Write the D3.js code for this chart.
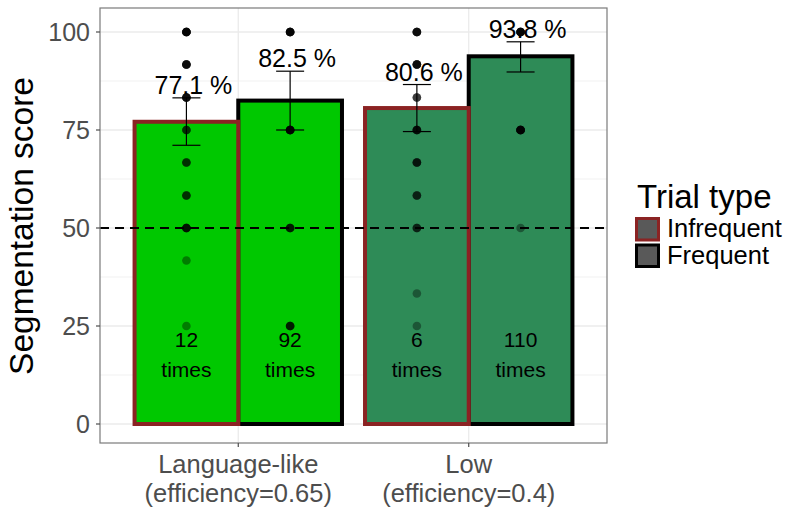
<!DOCTYPE html>
<html lang="en">
<head>
<meta charset="UTF-8">
<title>Segmentation score</title>
<script src="https://d3js.org/d3.v7.min.js"></script>
<style>
  * { margin: 0; padding: 0; box-sizing: border-box; }
  body { background: #fff; width: 785px; height: 510px; overflow: hidden; font-family: Arial, 'Liberation Sans', sans-serif; }
  svg { display: block; }
</style>
</head>
<body>
<svg id="chart" width="785" height="510"></svg>
<script>
// data
var categories = ['Language-like', 'Low'];
var categorySub = ['(efficiency=0.65)', '(efficiency=0.4)'];
var trialTypes = ['Infrequent', 'Frequent'];
var means = [[77.1, 82.5], [80.6, 93.8]];
var ciLow = [[71.1, 75.0], [74.6, 89.8]];
var ciHigh = [[83.2, 90.0], [86.6, 97.5]];
var times = [[12, 92], [6, 110]];
// individual scores: [score, how many overlap]
var dots = [
  [
    [[100, 8], [91.7, 6], [83.3, 6], [75, 3], [66.7, 3], [58.3, 3], [50, 5], [41.7, 1], [25, 1]],
    [[100, 8], [75, 8], [50, 4], [25, 4]]
  ],
  [
    [[100, 6], [91.7, 6], [83.3, 3], [75, 5], [66.7, 4], [58.3, 3], [50, 3], [33.3, 1], [25, 1]],
    [[100, 8], [75, 8], [50, 1]]
  ]
];
var yTicks = [0, 25, 50, 75, 100];
var yMinor = [12.5, 37.5, 62.5, 87.5];
var chance = 50;

var fills = ['#00c800', '#2e8b57'];
var borders = { Infrequent: '#8b2323', Frequent: '#000000' };

var panel = { left: 100, right: 607, top: 8, bottom: 443 };

var svg = d3.select('#chart');

var y = d3.scaleLinear().domain([0, 100]).range([424, 32]);
var x = d3.scalePoint().domain(categories).range([panel.left, panel.right]).padding(0.6);
var dodge = x.step() * 0.9;
var xs = d3.scaleBand().domain(trialTypes).range([-dodge / 2, dodge / 2]);

// grid
var grid = svg.append('g');
yMinor.forEach(function(v) {
  grid.append('line').attr('x1', panel.left).attr('x2', panel.right).attr('y1', y(v)).attr('y2', y(v))
    .attr('stroke', '#ebebeb').attr('stroke-width', 0.7);
});
yTicks.forEach(function(v) {
  grid.append('line').attr('x1', panel.left).attr('x2', panel.right).attr('y1', y(v)).attr('y2', y(v))
    .attr('stroke', '#ebebeb').attr('stroke-width', 1.3);
});
categories.forEach(function(c) {
  grid.append('line').attr('x1', x(c)).attr('x2', x(c)).attr('y1', panel.top).attr('y2', panel.bottom)
    .attr('stroke', '#ebebeb').attr('stroke-width', 1.3);
});

// bars (frequent first so infrequent borders sit on top at the shared edge)
var bars = [];
categories.forEach(function(c, i) {
  trialTypes.forEach(function(t, j) {
    bars.push({ cat: c, ci: i, type: t, tj: j, mean: means[i][j], lo: ciLow[i][j], hi: ciHigh[i][j], n: times[i][j], dots: dots[i][j] });
  });
});
var order = bars.slice().sort(function(a, b) { return b.tj - a.tj; });

svg.append('g').selectAll('rect').data(order).join('rect')
  .attr('x', function(d) { return x(d.cat) + xs(d.type); })
  .attr('width', xs.bandwidth())
  .attr('y', function(d) { return y(d.mean); })
  .attr('height', function(d) { return y(0) - y(d.mean); })
  .attr('fill', function(d) { return fills[d.ci]; })
  .attr('stroke', function(d) { return borders[d.type]; })
  .attr('stroke-width', 4);

function cx(d) { return x(d.cat) + xs(d.type) + xs.bandwidth() / 2; }

// points
var pts = [];
bars.forEach(function(b) {
  b.dots.forEach(function(p) {
    for (var k = 0; k < p[1]; k++) pts.push({ x: cx(b), v: p[0] });
  });
});
svg.append('g').selectAll('circle').data(pts).join('circle')
  .attr('cx', function(d) { return d.x; })
  .attr('cy', function(d) { return y(d.v); })
  .attr('r', 4.3)
  .attr('fill', '#000')
  .attr('fill-opacity', 0.38);

// chance line
svg.append('line').attr('x1', panel.left).attr('x2', panel.right).attr('y1', y(chance)).attr('y2', y(chance))
  .attr('stroke', '#000').attr('stroke-width', 2).attr('stroke-dasharray', '9,6');

// error bars
var cap = xs.bandwidth() * 0.27;
var eb = svg.append('g').attr('stroke', '#000').attr('stroke-width', 1.2);
bars.forEach(function(b) {
  var c = cx(b);
  eb.append('line').attr('x1', c).attr('x2', c).attr('y1', y(b.lo)).attr('y2', y(b.hi));
  eb.append('line').attr('x1', c - cap / 2).attr('x2', c + cap / 2).attr('y1', y(b.lo)).attr('y2', y(b.lo));
  eb.append('line').attr('x1', c - cap / 2).attr('x2', c + cap / 2).attr('y1', y(b.hi)).attr('y2', y(b.hi));
});

// percentage labels
svg.append('g').selectAll('text').data(bars).join('text')
  .attr('x', function(d) { return cx(d) + 7; })
  .attr('y', function(d) { return y(d.hi) - 4; })
  .attr('text-anchor', 'middle')
  .attr('font-size', 25)
  .attr('fill', '#000')
  .text(function(d) { return d.mean.toFixed(1) + ' %'; });

// counts
var cnt = svg.append('g').attr('font-size', 21).attr('fill', '#000').attr('text-anchor', 'middle');
bars.forEach(function(b) {
  cnt.append('text').attr('x', cx(b)).attr('y', y(19.6)).text(b.n);
  cnt.append('text').attr('x', cx(b)).attr('y', y(19.6) + 30).text('times');
});

// panel border
svg.append('rect').attr('x', panel.left).attr('y', panel.top)
  .attr('width', panel.right - panel.left).attr('height', panel.bottom - panel.top)
  .attr('fill', 'none').attr('stroke', '#7a7a7a').attr('stroke-width', 1.2);

// y axis
var ya = svg.append('g');
yTicks.forEach(function(v) {
  ya.append('line').attr('x1', panel.left - 4).attr('x2', panel.left).attr('y1', y(v)).attr('y2', y(v))
    .attr('stroke', '#4d4d4d').attr('stroke-width', 1.2);
  ya.append('text').attr('x', panel.left - 10).attr('y', y(v)).attr('dy', '0.36em')
    .attr('text-anchor', 'end').attr('font-size', 25).attr('fill', '#4d4d4d').text(v);
});

// x axis
var xa = svg.append('g');
categories.forEach(function(c, i) {
  xa.append('line').attr('x1', x(c)).attr('x2', x(c)).attr('y1', panel.bottom).attr('y2', panel.bottom + 4)
    .attr('stroke', '#4d4d4d').attr('stroke-width', 1.2);
  xa.append('text').attr('x', x(c)).attr('y', 473).attr('text-anchor', 'middle')
    .attr('font-size', 25.5).attr('fill', '#4d4d4d').text(c);
  xa.append('text').attr('x', x(c)).attr('y', 502).attr('text-anchor', 'middle')
    .attr('font-size', 25.5).attr('fill', '#4d4d4d').text(categorySub[i]);
});

// y title
svg.append('text').attr('transform', 'translate(33,226) rotate(-90)')
  .attr('text-anchor', 'middle').attr('font-size', 33.5).attr('fill', '#000').text('Segmentation score');

// legend
var lg = svg.append('g').attr('transform', 'translate(635,0)');
lg.append('text').attr('x', 2).attr('y', 208).attr('font-size', 33).attr('fill', '#000').text('Trial type');
trialTypes.forEach(function(t, j) {
  var top = 217 + j * 26.5;
  lg.append('rect').attr('x', 1.5).attr('y', top + 1.5).attr('width', 22).attr('height', 21.5)
    .attr('fill', '#595959').attr('stroke', borders[t]).attr('stroke-width', 3);
  lg.append('text').attr('x', 32).attr('y', top + 20).attr('font-size', 25.5).attr('fill', '#000').text(t);
});
</script>
</body>
</html>
